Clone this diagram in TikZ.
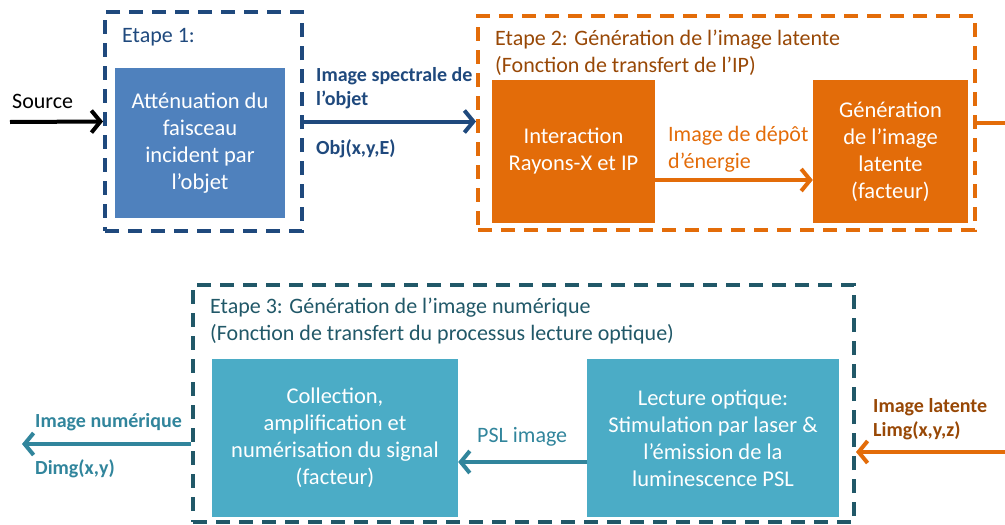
\documentclass[tikz,border=0pt]{standalone}
\usepackage{fontspec}
\setmainfont{Carlito}
\usetikzlibrary{arrows.meta,calc}
\definecolor{bluebox}{HTML}{4F81BD}
\definecolor{darkblue}{HTML}{1F497D}
\definecolor{orangeM}{HTML}{E36C09}
\definecolor{orangeT}{HTML}{984806}
\definecolor{tealdark}{HTML}{215868}
\definecolor{tealbox}{HTML}{4BACC6}
\definecolor{tealmid}{HTML}{31859C}
\tikzset{
  stage/.style={draw, line width=4pt, dash pattern=on 14pt off 9pt, minimum width=#1},
  box/.style={fill=#1, text=white, align=center, inner sep=0pt, font=\fontsize{22.5}{27}\selectfont},
  arr/.style={line width=4pt, -{Straight Barb[length=9pt,width=22pt,line width=4pt]}},
  lbl/.style={font=\fontsize{22}{27}\selectfont, align=left, inner sep=0pt, anchor=base west},
  blbl/.style={font=\bfseries\fontsize{20}{24}\selectfont, align=left, inner sep=0pt, anchor=base west}
}
\begin{document}
\begin{tikzpicture}[x=1pt,y=-1pt]
\useasboundingbox (0,0) rectangle (1005,525);
% stage frames
\node[stage=197pt, minimum height=219pt, darkblue] (e1) at (203.5,121.5) {};
\node[stage=497pt, minimum height=214pt, orangeM] (e2) at (726.5,123) {};
\node[stage=661pt, minimum height=237pt, tealdark] (e3) at (523.5,403.5) {};
% boxes
\node[box=bluebox, minimum width=170pt, minimum height=150pt] (b1) at (200,143) {Atténuation du\\faisceau\\incident par\\l’objet};
\node[box=orangeM, minimum width=163pt, minimum height=143pt] (o1) at (573.5,151.5) {Interaction\\Rayons-X et IP};
\node[box=orangeM, minimum width=155pt, minimum height=143pt] (o2) at (890.5,151.5) {Génération\\de l’image\\latente\\(facteur)};
\node[box=tealbox, minimum width=246pt, minimum height=158pt] (t1) at (335,438) {Collection,\\amplification et\\numérisation du signal\\(facteur)};
\node[box=tealbox, minimum width=252pt, minimum height=158pt] (t2) at (713,438) {Lecture optique:\\Stimulation par laser \&\\l’émission de la\\luminescence PSL};
% stage titles
\node[lbl, text=darkblue] (s1) at (122,42) {Etape 1:};
\node[lbl, text=orangeT] (s2) at (495,72) {Etape 2: Génération de l’image latente\\(Fonction de transfert de l’IP)};
\node[lbl, text=tealdark] (s3) at (210,340) {Etape 3: Génération de l’image numérique\\(Fonction de transfert du processus lecture optique)};
% connectors
\coordinate (src) at (10,122);
\coordinate (outR) at (1005,123);
\coordinate (inR) at (1005,452);
\coordinate (outL) at (22,444);
\coordinate (yo) at (0,180);
\coordinate (yt) at (0,462);
\draw[arr, black] (src) -- (e1.west);
\draw[arr, darkblue] (e1.east) -- (e1.east -| e2.west);
\draw[arr, orangeM] (o1.east |- yo) -- (o2.west |- yo);
\draw[line width=4pt, orangeM] (e2.east |- outR) -- (outR);
\draw[arr, orangeM] (inR) -- (e3.east |- inR);
\draw[arr, tealmid] (t2.west |- yt) -- (t1.east |- yt);
\draw[arr, tealmid] (e3.west |- outL) -- (outL);
% labels
\node[lbl] (lsrc) at (12,108) {Source};
\node[blbl, text=darkblue] (l1) at (316,105) {Image spectrale de\\l’objet};
\node[blbl, text=darkblue] (l2) at (316,154) {Obj(x,y,E)};
\node[lbl, text=orangeM] (l3) at (668,168) {Image de dépôt\\d’énergie};
\node[lbl, text=tealmid] (l4) at (477,442) {PSL image};
\node[blbl, text=tealmid] (l5) at (35,427) {Image numérique};
\node[blbl, text=tealmid] (l6) at (35,474) {Dimg(x,y)};
\node[blbl, text=orangeT] (l7) at (873,436) {Image latente\\Limg(x,y,z)};
\end{tikzpicture}
\end{document}
